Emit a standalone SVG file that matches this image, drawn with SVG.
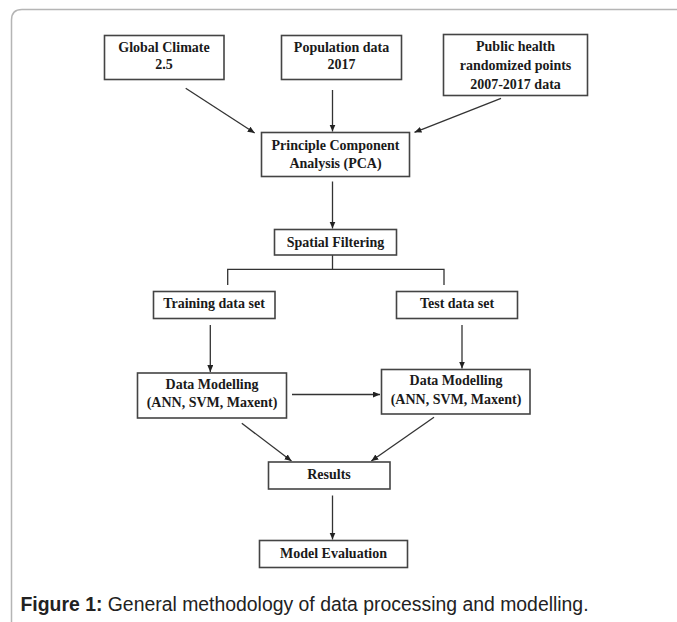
<svg xmlns="http://www.w3.org/2000/svg" width="677" height="622" viewBox="0 0 677 622">
<defs>
<marker id="ah" markerUnits="userSpaceOnUse" markerWidth="8" markerHeight="7" refX="7" refY="3" orient="auto">
<path d="M0,0 L7,3 L0,6 z" fill="#222"/>
</marker>
<style>
.box{fill:#fff;stroke:#444;stroke-width:1.6}
.t{font-family:"Liberation Serif","Times New Roman",serif;font-weight:bold;font-size:14px;fill:#1a1a1a;text-anchor:middle}
.c{stroke:#333;stroke-width:1.3;fill:none}
.a{marker-end:url(#ah)}
.cap{font-family:"Liberation Sans",Arial,sans-serif;font-size:19.4px;fill:#222}
</style>
</defs>
<rect width="677" height="622" fill="#fff"/>
<path d="M11.5,622 V20 Q11.5,9.5 22,9.5 H677" fill="none" stroke="#b5b5b5" stroke-width="1.5"/>

<g id="connectors">
<line class="c a" x1="185.7" y1="88.3" x2="254.7" y2="133"/>
<line class="c a" x1="332.5" y1="90" x2="332.5" y2="131.5"/>
<line class="c a" x1="501" y1="98.3" x2="414.5" y2="132.3"/>
<line class="c a" x1="332.5" y1="181.5" x2="332.5" y2="228.5"/>
<polyline class="c" points="332.5,255 332.5,269.3"/>
<polyline class="c" points="227.7,285 227.7,269.3 444,269.3 444,285"/>
<line class="c a" x1="210.3" y1="325" x2="210.3" y2="372"/>
<line class="c a" x1="462" y1="325" x2="462" y2="368.5"/>
<line class="c a" x1="292" y1="394.5" x2="380" y2="394.5"/>
<line class="c a" x1="241.8" y1="423.3" x2="291.5" y2="461"/>
<line class="c a" x1="434" y1="417.3" x2="371.3" y2="461"/>
<line class="c a" x1="332.5" y1="495.5" x2="332.5" y2="539.5"/>
</g>

<g id="global-climate">
<rect class="box" x="104.5" y="35.5" width="119.5" height="44"/>
<text class="t" x="164" y="51.5">Global Climate</text>
<text class="t" x="164" y="69">2.5</text>
</g>
<g id="population">
<rect class="box" x="281.5" y="35.5" width="120" height="44"/>
<text class="t" x="341.5" y="51.5">Population  data</text>
<text class="t" x="341.5" y="69">2017</text>
</g>
<g id="public-health">
<rect class="box" x="443.5" y="34.5" width="144" height="61"/>
<text class="t" x="515.5" y="51">Public health</text>
<text class="t" x="515.5" y="70">randomized points</text>
<text class="t" x="515.5" y="89">2007-2017 data</text>
</g>
<g id="pca">
<rect class="box" x="261.5" y="132.5" width="148" height="44"/>
<text class="t" x="335.5" y="150">Principle Component</text>
<text class="t" x="335.5" y="168">Analysis (PCA)</text>
</g>
<g id="spatial-filtering">
<rect class="box" x="274.5" y="229.5" width="122" height="25.5"/>
<text class="t" x="335.5" y="246.5">Spatial Filtering</text>
</g>
<g id="training">
<rect class="box" x="153.5" y="291.5" width="121.5" height="27"/>
<text class="t" x="214" y="308">Training data set</text>
</g>
<g id="test">
<rect class="box" x="396.5" y="291.5" width="121" height="27"/>
<text class="t" x="457" y="308">Test data set</text>
</g>
<g id="data-modelling-left">
<rect class="box" x="137.5" y="373" width="149" height="45"/>
<text class="t" x="212" y="388.5">Data Modelling</text>
<text class="t" x="212" y="407">(ANN, SVM, Maxent)</text>
</g>
<g id="data-modelling-right">
<rect class="box" x="381.5" y="369.5" width="148.5" height="44.5"/>
<text class="t" x="456" y="385">Data Modelling</text>
<text class="t" x="456" y="403.5">(ANN, SVM, Maxent)</text>
</g>
<g id="results">
<rect class="box" x="268.5" y="462" width="121.5" height="27"/>
<text class="t" x="329" y="479">Results</text>
</g>
<g id="model-evaluation">
<rect class="box" x="259.5" y="540.5" width="148" height="27"/>
<text class="t" x="333.5" y="557.5">Model Evaluation</text>
</g>

<text class="cap" x="20.5" y="611"><tspan font-weight="bold">Figure 1:</tspan> General methodology of data processing and modelling.</text>
</svg>
